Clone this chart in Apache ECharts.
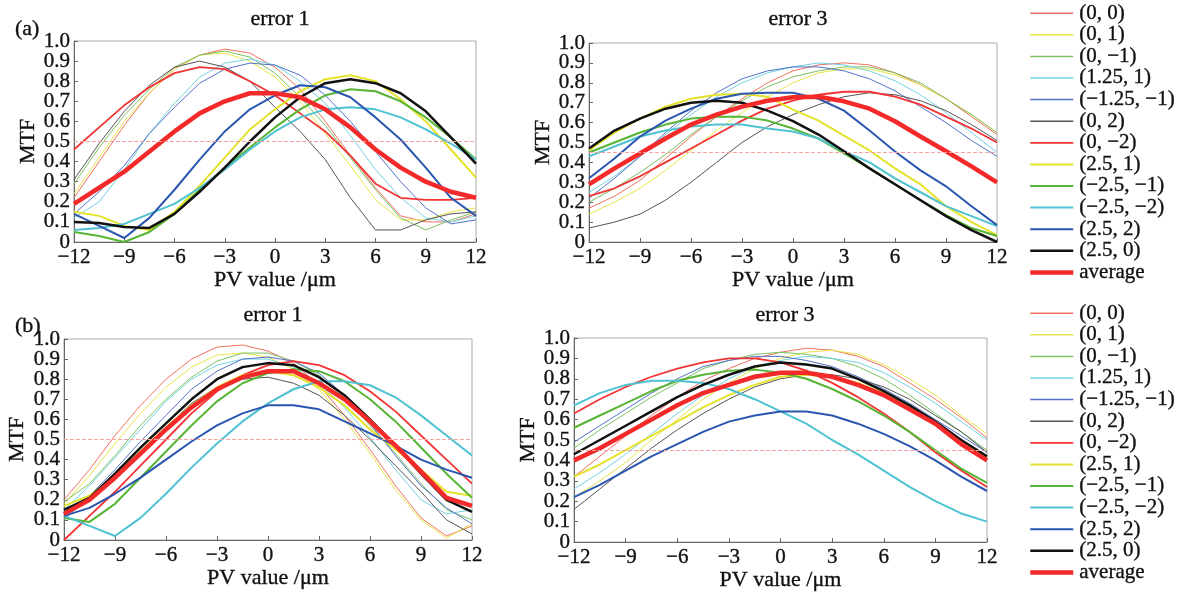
<!DOCTYPE html>
<html><head><meta charset="utf-8">
<script src="https://cdn.jsdelivr.net/npm/echarts@6/dist/echarts.min.js"></script>
<style>html,body{margin:0;padding:0;background:#fff}#c{width:1185px;height:594px}</style>
</head><body><div id="c"></div>
<script>
const xs = [-12,-10.5,-9,-7.5,-6,-4.5,-3,-1.5,0,1.5,3,4.5,6,7.5,9,10.5,12];
const xTickLabels = {'-12':'−12','-9':'−9','-6':'−6','-3':'−3','0':'0','3':'3','6':'6','9':'9','12':'12'};
const yTickLabels = ['0','0.1','0.2','0.3','0.4','0.5','0.6','0.7','0.8','0.9','1.0'];
const names = ['(0, 0)','(0, 1)','(0, −1)','(1.25, 1)','(−1.25, −1)','(0, 2)','(0, −2)','(2.5, 1)','(−2.5, −1)','(−2.5, −2)','(2.5, 2)','(2.5, 0)','average'];
const colors = ['#f27060','#e8e64a','#7cc262','#74d2e2','#5272c8','#555555','#f23434','#e4e22a','#58b434','#4ec2d2','#2a56b0','#111111','#f42a2a'];
const widths = [1,1,1,1,1,1,1.8,2,2,2,2,2.5,4.5];
const titles = ['error 1','error 3','error 1','error 3'];
const thresholds = [0.5,0.45,0.5,0.45];

const a_err1 = [
 [0.22,0.40,0.58,0.74,0.86,0.93,0.96,0.94,0.87,0.76,0.60,0.43,0.27,0.13,0.10,0.10,0.14],
 [0.24,0.42,0.60,0.74,0.86,0.93,0.94,0.90,0.82,0.70,0.54,0.38,0.21,0.11,0.11,0.15,0.17],
 [0.29,0.47,0.63,0.76,0.87,0.93,0.95,0.92,0.84,0.72,0.58,0.42,0.26,0.12,0.06,0.11,0.15],
 [0.12,0.20,0.36,0.54,0.69,0.82,0.89,0.91,0.88,0.80,0.69,0.53,0.36,0.22,0.12,0.10,0.13],
 [0.14,0.25,0.38,0.54,0.67,0.79,0.86,0.89,0.88,0.83,0.73,0.60,0.45,0.30,0.17,0.09,0.11],
 [0.31,0.49,0.65,0.78,0.87,0.90,0.87,0.80,0.67,0.55,0.41,0.22,0.06,0.06,0.11,0.14,0.15],
 [0.46,0.57,0.68,0.77,0.84,0.87,0.86,0.80,0.73,0.64,0.55,0.43,0.29,0.22,0.21,0.21,0.22],
 [0.15,0.13,0.08,0.06,0.15,0.28,0.42,0.56,0.66,0.75,0.81,0.83,0.80,0.71,0.60,0.46,0.32],
 [0.05,0.03,0.00,0.05,0.14,0.26,0.37,0.47,0.57,0.66,0.73,0.76,0.75,0.70,0.62,0.52,0.41],
 [0.06,0.07,0.09,0.14,0.19,0.27,0.36,0.46,0.55,0.62,0.66,0.67,0.66,0.62,0.56,0.49,0.41],
 [0.14,0.08,0.02,0.12,0.26,0.41,0.55,0.66,0.73,0.78,0.77,0.72,0.62,0.51,0.37,0.22,0.13],
 [0.10,0.095,0.075,0.07,0.14,0.25,0.37,0.50,0.62,0.72,0.79,0.81,0.79,0.74,0.65,0.52,0.39],
 [0.19,0.27,0.35,0.45,0.55,0.64,0.70,0.74,0.74,0.72,0.66,0.57,0.46,0.37,0.30,0.25,0.22]
];
const a_err3 = [
 [0.17,0.23,0.31,0.42,0.53,0.63,0.72,0.80,0.86,0.89,0.90,0.89,0.85,0.79,0.72,0.63,0.54],
 [0.14,0.20,0.27,0.36,0.46,0.56,0.65,0.73,0.80,0.85,0.87,0.87,0.84,0.79,0.72,0.64,0.55],
 [0.20,0.27,0.35,0.44,0.54,0.63,0.71,0.78,0.83,0.86,0.88,0.88,0.85,0.80,0.72,0.64,0.55],
 [0.25,0.33,0.43,0.54,0.64,0.73,0.80,0.85,0.88,0.90,0.89,0.86,0.81,0.74,0.65,0.55,0.45],
 [0.22,0.32,0.43,0.55,0.66,0.75,0.82,0.86,0.88,0.88,0.86,0.82,0.76,0.68,0.60,0.51,0.43],
 [0.07,0.10,0.14,0.21,0.30,0.40,0.50,0.58,0.64,0.69,0.73,0.75,0.74,0.71,0.66,0.59,0.51],
 [0.23,0.27,0.33,0.40,0.47,0.54,0.61,0.67,0.71,0.74,0.755,0.755,0.73,0.69,0.63,0.57,0.50],
 [0.46,0.55,0.62,0.68,0.72,0.74,0.745,0.73,0.665,0.61,0.535,0.46,0.37,0.29,0.18,0.10,0.035],
 [0.45,0.50,0.55,0.59,0.62,0.63,0.63,0.61,0.57,0.52,0.445,0.37,0.29,0.21,0.135,0.07,0.03],
 [0.43,0.48,0.53,0.56,0.58,0.59,0.59,0.57,0.555,0.52,0.455,0.40,0.32,0.25,0.18,0.13,0.08],
 [0.32,0.42,0.53,0.61,0.67,0.72,0.745,0.75,0.75,0.72,0.66,0.56,0.455,0.36,0.28,0.18,0.085],
 [0.47,0.56,0.62,0.67,0.70,0.71,0.70,0.66,0.607,0.54,0.456,0.37,0.29,0.21,0.13,0.06,0.00],
 [0.29,0.37,0.445,0.52,0.59,0.64,0.68,0.71,0.727,0.73,0.707,0.67,0.607,0.53,0.456,0.38,0.30]
];
const b_err1 = [
 [0.20,0.35,0.52,0.67,0.80,0.90,0.96,0.97,0.94,0.88,0.77,0.62,0.45,0.27,0.11,0.02,0.07],
 [0.18,0.32,0.48,0.63,0.76,0.86,0.92,0.93,0.91,0.85,0.75,0.60,0.43,0.25,0.10,0.01,0.08],
 [0.19,0.28,0.42,0.57,0.70,0.81,0.89,0.93,0.93,0.89,0.82,0.71,0.57,0.43,0.28,0.15,0.10],
 [0.15,0.27,0.41,0.55,0.69,0.80,0.87,0.90,0.90,0.86,0.78,0.66,0.51,0.35,0.20,0.13,0.15],
 [0.10,0.22,0.35,0.49,0.62,0.75,0.84,0.90,0.91,0.89,0.83,0.72,0.58,0.42,0.27,0.16,0.08],
 [0.13,0.20,0.30,0.43,0.56,0.68,0.76,0.80,0.81,0.78,0.72,0.62,0.50,0.37,0.24,0.10,0.03],
 [0.00,0.12,0.24,0.37,0.50,0.63,0.74,0.82,0.87,0.89,0.87,0.82,0.74,0.64,0.52,0.40,0.28],
 [0.17,0.22,0.32,0.44,0.56,0.67,0.76,0.82,0.84,0.82,0.76,0.67,0.55,0.45,0.35,0.24,0.22],
 [0.11,0.09,0.18,0.31,0.44,0.57,0.69,0.78,0.83,0.85,0.84,0.79,0.70,0.59,0.46,0.33,0.21],
 [0.12,0.07,0.02,0.11,0.23,0.36,0.48,0.59,0.68,0.75,0.79,0.79,0.77,0.71,0.62,0.52,0.42],
 [0.12,0.16,0.23,0.31,0.40,0.49,0.57,0.63,0.67,0.67,0.65,0.59,0.53,0.47,0.40,0.35,0.31],
 [0.15,0.21,0.33,0.46,0.58,0.70,0.80,0.86,0.88,0.87,0.81,0.72,0.60,0.47,0.33,0.20,0.14],
 [0.13,0.20,0.31,0.43,0.55,0.66,0.75,0.81,0.84,0.84,0.78,0.70,0.59,0.47,0.34,0.21,0.17]
];
const b_err3 = [
 [0.32,0.42,0.52,0.62,0.71,0.79,0.85,0.90,0.93,0.95,0.94,0.91,0.86,0.78,0.70,0.61,0.51],
 [0.22,0.30,0.39,0.50,0.60,0.70,0.78,0.85,0.90,0.93,0.94,0.92,0.87,0.80,0.72,0.62,0.53],
 [0.46,0.55,0.63,0.71,0.78,0.85,0.89,0.92,0.93,0.92,0.90,0.86,0.80,0.72,0.63,0.54,0.45],
 [0.26,0.34,0.43,0.53,0.63,0.72,0.80,0.86,0.89,0.91,0.90,0.88,0.83,0.76,0.68,0.59,0.50],
 [0.49,0.57,0.65,0.73,0.80,0.86,0.89,0.91,0.91,0.89,0.86,0.81,0.75,0.68,0.60,0.52,0.44],
 [0.16,0.26,0.36,0.46,0.55,0.63,0.70,0.76,0.80,0.82,0.82,0.80,0.76,0.70,0.62,0.54,0.44],
 [0.63,0.70,0.76,0.81,0.85,0.88,0.90,0.90,0.88,0.84,0.78,0.71,0.63,0.54,0.44,0.35,0.27],
 [0.32,0.38,0.45,0.52,0.59,0.66,0.72,0.77,0.81,0.82,0.81,0.78,0.73,0.66,0.58,0.50,0.41],
 [0.56,0.62,0.68,0.74,0.79,0.82,0.84,0.845,0.83,0.80,0.75,0.69,0.62,0.54,0.45,0.36,0.29],
 [0.67,0.73,0.77,0.79,0.79,0.78,0.75,0.70,0.64,0.58,0.50,0.43,0.35,0.27,0.20,0.14,0.10],
 [0.22,0.28,0.35,0.42,0.48,0.54,0.59,0.62,0.64,0.64,0.62,0.58,0.53,0.47,0.40,0.32,0.25],
 [0.43,0.50,0.57,0.64,0.71,0.77,0.82,0.86,0.88,0.87,0.85,0.80,0.74,0.67,0.59,0.50,0.42],
 [0.40,0.46,0.53,0.60,0.67,0.73,0.77,0.81,0.83,0.83,0.81,0.77,0.72,0.65,0.58,0.48,0.40]
];
const panels = [a_err1, a_err3, b_err1, b_err3];

const FONT = '"Liberation Serif", "Times New Roman", serif';
const grids = [
  {left:74, top:41, width:402, height:201},
  {left:589, top:43, width:408, height:199},
  {left:64, top:339, width:408, height:201},
  {left:574, top:338, width:413, height:204}
];
const yNameGaps = [31, 33, 36, 29];
const heavy = {textBorderColor:'#111', textBorderWidth:0.35};
const txt = Object.assign({fontFamily:FONT, fontSize:21, color:'#111'}, heavy);

const xAxes = grids.map((g,i)=>({
  type:'value', gridIndex:i, min:-12, max:12, interval:3,
  name:'PV value /μm', nameLocation:'middle', nameGap:25,
  nameTextStyle:Object.assign({fontFamily:FONT, fontSize:22, color:'#111'}, heavy),
  axisLine:{onZero:false, lineStyle:{color:'#666', width:1}},
  axisTick:{inside:true, length:4, lineStyle:{color:'#666'}},
  axisLabel:Object.assign({margin:5, showMinLabel:true, showMaxLabel:true, hideOverlap:false,
    formatter:v=>xTickLabels[String(v)]}, txt),
  splitLine:{show:false}
}));
// Two y axes per grid sharing the same 0..1 scale: one labels the even tenths, the other the odd tenths.
const yAxes = [];
grids.forEach((g,i)=>{
  yAxes.push({
    type:'value', gridIndex:i, min:0, max:1, interval:0.2, position:'left',
    name:'MTF', nameLocation:'middle', nameGap:yNameGaps[i], nameRotate:90,
    nameTextStyle:Object.assign({fontFamily:FONT, fontSize:22, color:'#111'}, heavy),
    axisLine:{onZero:false, lineStyle:{color:'#666', width:1}},
    axisTick:{inside:true, length:4, lineStyle:{color:'#666'}},
    axisLabel:Object.assign({margin:4, showMinLabel:true, showMaxLabel:true,
      formatter:v=>yTickLabels[Math.round(v*10)]}, txt),
    splitLine:{show:false}
  });
  yAxes.push({
    type:'value', gridIndex:i, min:0, max:1, interval:0.1, position:'left', offset:0,
    axisLine:{show:false, onZero:false},
    axisTick:{show:true, inside:true, length:4, lineStyle:{color:'#666'}},
    axisLabel:Object.assign({margin:4, showMinLabel:true, showMaxLabel:true,
      formatter:v=>{const k=Math.round(v*10); return k%2===1 ? yTickLabels[k] : '';}}, txt),
    splitLine:{show:false}
  });
});

const series = [];
panels.forEach((pd,pi)=>{
  pd.forEach((vals,si)=>{
    series.push({
      type:'line', name:names[si], xAxisIndex:pi, yAxisIndex:2*pi,
      data: xs.map((x,k)=>[x, vals[k]]),
      symbol:'none', showSymbol:false, silent:true, animation:false,
      color: colors[si],
      lineStyle:{color:colors[si], width:widths[si]}
    });
  });
  series.push({
    type:'line', name:'thr'+pi, xAxisIndex:pi, yAxisIndex:2*pi, data:[], animation:false,
    markLine:{silent:true, symbol:'none', label:{show:false},
      lineStyle:{type:'dashed', color:'#f4a4a0', width:1},
      data:[{yAxis:thresholds[pi]}]}
  });
});

const legendCommon = {
  orient:'vertical', left:1028, itemWidth:43, itemHeight:14, itemGap:0.25, padding:0,
  data:names.map((n,i)=>({name:n, lineStyle:{width:Math.max(1.5, widths[i])}})),
  selectedMode:false,
  itemStyle:{opacity:0},
  textStyle:Object.assign({fontFamily:FONT, fontSize:21, color:'#111', lineHeight:21, padding:[0,0,0,1]}, heavy)
};

const option = {
  backgroundColor:'#fff',
  animation:false,
  grid: grids.map(g=>Object.assign({show:true, borderColor:'#aaa', borderWidth:1, containLabel:false}, g)),
  xAxis: xAxes, yAxis: yAxes, series,
  legend:[
    Object.assign({top:2.5}, legendCommon),
    Object.assign({top:302.5}, legendCommon)
  ],
  title: [
    {text:titles[0], left:275, top:3, textAlign:'center'},
    {text:titles[1], left:793, top:3, textAlign:'center'},
    {text:titles[2], left:268, top:299, textAlign:'center'},
    {text:titles[3], left:780, top:299, textAlign:'center'},
    {text:'(a)', left:10, top:13},
    {text:'(b)', left:10, top:310}
  ].map(t=>Object.assign(t,{textStyle:Object.assign({fontFamily:FONT, fontSize:22, fontWeight:'normal', color:'#111'}, heavy)}))
};
const chart = echarts.init(document.getElementById('c'), null, {renderer:'canvas'});
chart.setOption(option);
</script></body></html>
